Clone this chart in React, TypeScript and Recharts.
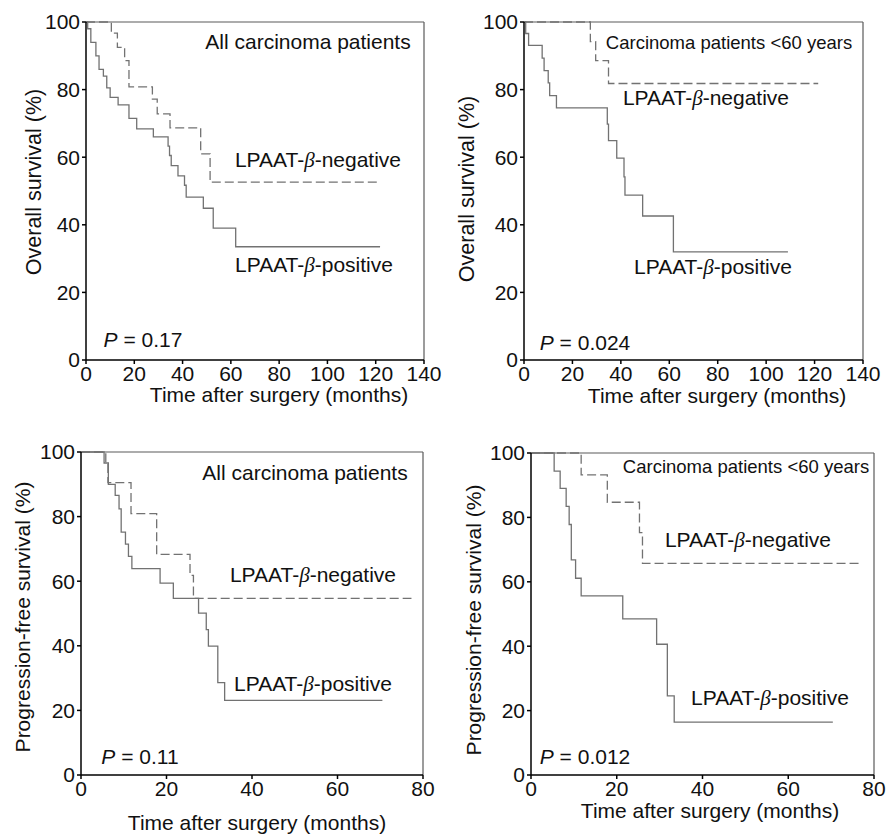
import React from 'react'
import { LineChart, Line, XAxis, YAxis, ReferenceLine } from 'recharts'

const OS_X_TICKS = [0, 20, 40, 60, 80, 100, 120, 140]
const PFS_X_TICKS = [0, 20, 40, 60, 80]
const Y_TICKS = [0, 20, 40, 60, 80, 100]

// Overall survival, all carcinoma patients
const osAllPosTime = [0, 0.7, 2, 4.1, 5.4, 7.2, 8.6, 10, 13.3, 17.8, 21, 27.9, 34, 34.6, 35.3, 38.1, 40.8, 41.5, 48.6, 52.7, 62, 121.8]
const osAllPosSurv = [100, 98, 94, 90, 86, 84, 80.5, 77.7, 75.5, 71.5, 68.4, 66, 63.3, 60.5, 57.5, 54.5, 51.7, 48.2, 44.9, 39, 33.5, 33.5]
const osAllNegTime = [0, 10.5, 13, 16, 17.8, 27.5, 29.5, 34.8, 47.5, 51.4, 121.8]
const osAllNegSurv = [100, 96.7, 92.5, 88.6, 80.8, 77.2, 72.8, 68.7, 61, 52.6, 52.6]

// Overall survival, patients <60 years
const os60PosTime = [0, 0.7, 1.9, 7.5, 8.3, 10, 10.6, 13.4, 34.4, 34.9, 38.3, 41.3, 41.7, 49, 61.7, 109]
const os60PosSurv = [100, 96.6, 93.1, 89.3, 85.6, 82, 78.2, 74.6, 69.8, 64.9, 59.7, 54.2, 48.8, 42.6, 32, 32]
const os60NegTime = [0, 27.4, 29.6, 34.9, 121.5]
const os60NegSurv = [100, 94.2, 88.6, 81.8, 81.8]

// Progression-free survival, all carcinoma patients
const pfsAllPosTime = [0, 5.4, 6.4, 8, 8.9, 9.4, 10.4, 11.1, 11.9, 18.5, 21.6, 27.5, 29.3, 29.8, 32, 33.6, 70.5]
const pfsAllPosSurv = [100, 96.6, 90, 86.6, 82.4, 75.2, 71.5, 67.7, 63.9, 59.4, 54.7, 50.1, 45, 39.9, 28.6, 23.1, 23.1]
const pfsAllNegTime = [0, 5.8, 6.3, 11.7, 17.7, 25.5, 26.3, 77.3]
const pfsAllNegSurv = [100, 96.6, 90.5, 80.9, 68.3, 61.8, 54.7, 54.7]

// Progression-free survival, patients <60 years
const pfs60PosTime = [0, 5.4, 6.8, 8.2, 8.9, 9.4, 10.4, 11.7, 21.4, 29.3, 31.8, 33.4, 70.4]
const pfs60PosSurv = [100, 94.4, 89, 83.4, 77.8, 66.8, 61.1, 55.6, 48.5, 40.6, 24.6, 16.4, 16.4]
const pfs60NegTime = [0, 11.7, 17.8, 25.3, 26, 77.1]
const pfs60NegSurv = [100, 93.2, 84.7, 75.3, 65.7, 65.7]

const FONT = '"Liberation Sans", Arial, sans-serif'
const CURVE = '#727272'
const FRAME = '#5a5a5a'

const zip = (t: number[], s: number[]) => t.map((x, i) => ({ t: x, s: s[i] }))

const Beta = () => (
  <i style={{ fontFamily: '"Liberation Serif", "Times New Roman", serif' }}>β</i>
)

function Txt({ x, y, size = 21, rotate = false, lh = 1, children }: any) {
  return (
    <div
      style={{
        position: 'absolute',
        left: x,
        top: y,
        transform: `translate(-50%, -50%)${rotate ? ' rotate(-90deg)' : ''}`,
        whiteSpace: 'nowrap',
        fontSize: size,
        lineHeight: lh,
        fontFamily: FONT,
        color: '#111',
      }}
    >
      {children}
    </div>
  )
}

function Panel({ left, top, width, height, margin, yWidth, xMax, xTicks, pos, neg }: any) {
  return (
    <div style={{ position: 'absolute', left, top }}>
      <LineChart width={width} height={height} margin={margin}>
        <XAxis
          dataKey="t"
          type="number"
          domain={[0, xMax]}
          ticks={xTicks}
          interval={0}
          height={60}
          tickSize={4}
          tickMargin={2}
          stroke="#000"
          strokeWidth={1.5}
          tick={{ fontSize: 21, fill: '#111', fontFamily: FONT }}
        />
        <YAxis
          type="number"
          domain={[0, 100]}
          ticks={Y_TICKS}
          interval={0}
          width={yWidth}
          tickSize={4}
          tickMargin={2}
          stroke="#000"
          strokeWidth={1.5}
          tick={{ fontSize: 21, fill: '#111', fontFamily: FONT }}
        />
        <ReferenceLine y={100} stroke={FRAME} strokeWidth={1.2} />
        <ReferenceLine x={xMax} stroke={FRAME} strokeWidth={1.2} />
        <Line
          data={neg}
          dataKey="s"
          type="stepAfter"
          stroke={CURVE}
          strokeWidth={1.3}
          strokeDasharray="9 4"
          dot={false}
          isAnimationActive={false}
        />
        <Line
          data={pos}
          dataKey="s"
          type="stepAfter"
          stroke={CURVE}
          strokeWidth={1.3}
          dot={false}
          isAnimationActive={false}
        />
      </LineChart>
    </div>
  )
}

export default function App() {
  return (
    <div style={{ position: 'absolute', left: 0, top: 0, width: 887, height: 835, background: '#fff' }}>
      <Panel
        left={0} top={0} width={443} height={420}
        margin={{ top: 22, right: 19, left: 0, bottom: 0 }} yWidth={86}
        xMax={140} xTicks={OS_X_TICKS}
        pos={zip(osAllPosTime, osAllPosSurv)} neg={zip(osAllNegTime, osAllNegSurv)}
      />
      <Panel
        left={443} top={0} width={444} height={420}
        margin={{ top: 22, right: 24, left: 0, bottom: 0 }} yWidth={81}
        xMax={140} xTicks={OS_X_TICKS}
        pos={zip(os60PosTime, os60PosSurv)} neg={zip(os60NegTime, os60NegSurv)}
      />
      <Panel
        left={0} top={420} width={443} height={415}
        margin={{ top: 32, right: 20, left: 0, bottom: 0 }} yWidth={81}
        xMax={80} xTicks={PFS_X_TICKS}
        pos={zip(pfsAllPosTime, pfsAllPosSurv)} neg={zip(pfsAllNegTime, pfsAllNegSurv)}
      />
      <Panel
        left={443} top={420} width={444} height={415}
        margin={{ top: 33, right: 13, left: 0, bottom: 0 }} yWidth={88}
        xMax={80} xTicks={PFS_X_TICKS}
        pos={zip(pfs60PosTime, pfs60PosSurv)} neg={zip(pfs60NegTime, pfs60NegSurv)}
      />

      {/* axis titles */}
      <Txt x={35} y={182} size={21.5} rotate>Overall survival (%)</Txt>
      <Txt x={279} y={395} lh={0.8}>Time after surgery (months)</Txt>
      <Txt x={468} y={189} size={21.5} rotate>Overall survival (%)</Txt>
      <Txt x={717} y={396} lh={0.8}>Time after surgery (months)</Txt>
      <Txt x={22} y={617} rotate>Progression-free survival (%)</Txt>
      <Txt x={257} y={823} lh={0.8}>Time after surgery (months)</Txt>
      <Txt x={473} y={620} rotate>Progression-free survival (%)</Txt>
      <Txt x={710} y={811} lh={0.8}>Time after surgery (months)</Txt>

      {/* panel annotations */}
      <Txt x={308} y={41}>All carcinoma patients</Txt>
      <Txt x={318} y={160}>LPAAT-<Beta />-negative</Txt>
      <Txt x={314} y={265}>LPAAT-<Beta />-positive</Txt>
      <Txt x={143} y={339}><i>P</i> = 0.17</Txt>

      <Txt x={729} y={43} size={18.5}>Carcinoma patients &lt;60 years</Txt>
      <Txt x={706} y={98}>LPAAT-<Beta />-negative</Txt>
      <Txt x={713} y={267}>LPAAT-<Beta />-positive</Txt>
      <Txt x={585} y={342}><i>P</i> = 0.024</Txt>

      <Txt x={305} y={472}>All carcinoma patients</Txt>
      <Txt x={313} y={575}>LPAAT-<Beta />-negative</Txt>
      <Txt x={313} y={684}>LPAAT-<Beta />-positive</Txt>
      <Txt x={140} y={756}><i>P</i> = 0.11</Txt>

      <Txt x={746} y={467} size={18.5}>Carcinoma patients &lt;60 years</Txt>
      <Txt x={748} y={540}>LPAAT-<Beta />-negative</Txt>
      <Txt x={770} y={698}>LPAAT-<Beta />-positive</Txt>
      <Txt x={585} y={756}><i>P</i> = 0.012</Txt>
    </div>
  )
}
